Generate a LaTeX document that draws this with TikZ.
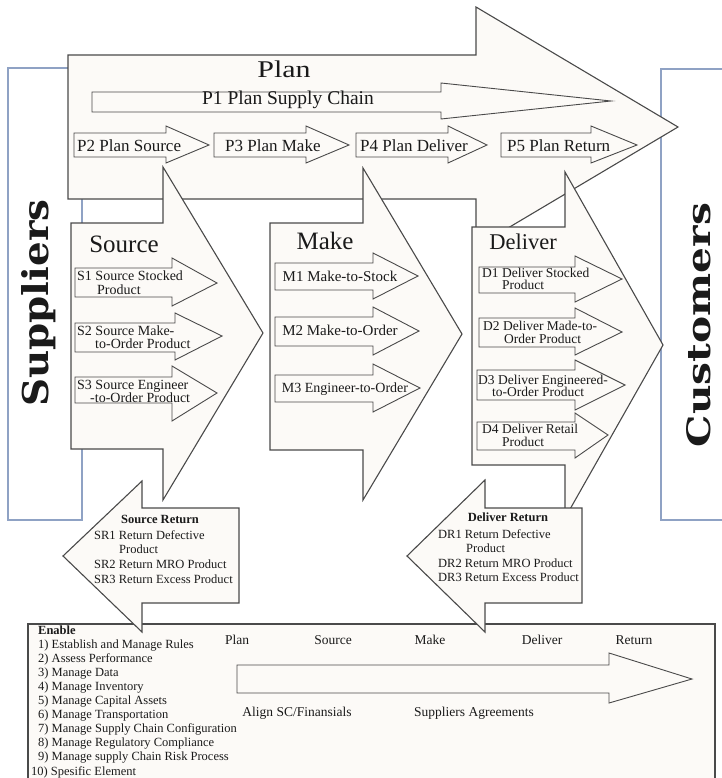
\documentclass[tikz,border=0pt]{standalone}
\usepackage{fontspec}
\setmainfont{Liberation Serif}
\newfontfamily\slabfont{DejaVu Serif}
\usepackage{graphicx}

\definecolor{edge}{HTML}{4A4A4A}
\definecolor{paper}{HTML}{FCFAF7}
\definecolor{sidebox}{HTML}{8FA2C4}
\definecolor{ink}{HTML}{1A1A1A}

% block arrow pointing along x:
% #1 style, #2 body end x, #3 body top y, #4 body bottom y,
% #5 head base x, #6 head top y, #7 head bottom y, #8 tip x, #9 tip y
\newcommand{\blockarrow}[9]{%
  \filldraw[#1] (#2,#3) -- (#5,#3) -- (#5,#6) -- (#8,#9) -- (#5,#7)
    -- (#5,#4) -- (#2,#4) -- cycle;}

\newcommand{\fs}[1]{\fontsize{#1}{#1}\selectfont}

\begin{document}
\begin{tikzpicture}[x=1pt,y=-1pt,
  big/.style={draw=edge, fill=paper, line width=1.1pt, line join=miter},
  small/.style={draw=edge, fill=paper, line width=0.9pt, line join=miter},
  party/.style={draw=sidebox, line width=1.4pt},
  txt/.style={inner sep=0pt, text=ink},
  ttl/.style={txt, anchor=base, font=\fs{24}},
  ptx/.style={txt, anchor=base west, font=\fs{17}},
  stx/.style={txt, anchor=base west, font=\fs{14}},
  mtx/.style={txt, anchor=base, font=\fs{15}},
  dtx/.style={txt, anchor=base west, font=\fs{13.5}},
  rtx/.style={txt, anchor=base west, font=\fs{12.5}},
  rhd/.style={txt, anchor=base, font=\fs{12.5}\bfseries},
  etx/.style={txt, anchor=base west, font=\fs{12.5}},
  ehd/.style={txt, anchor=base, font=\fs{13.5}}]

\useasboundingbox (0,0) rectangle (721,778);
\fill[white] (0,0) rectangle (721,778);

% suppliers and customers frames
\draw[party] (8,68) rectangle (82,520);
\draw[party] (730,69) -- (661,69) -- (661,520) -- (730,520);

% Plan
\blockarrow{big}{68}{55}{199}{476}{7}{247}{678}{127}
\blockarrow{small}{92}{92}{112}{441}{83}{119}{611}{101}
\blockarrow{small}{74}{133}{157}{166}{126}{163}{209}{145}
\blockarrow{small}{214}{133}{157}{306}{126}{163}{349}{145}
\blockarrow{small}{356}{133}{157}{448}{126}{163}{487}{145}
\blockarrow{small}{501}{133}{157}{591}{126}{163}{637}{145}

% Source
\blockarrow{big}{71}{223}{449}{163}{167}{500}{263}{333}
\blockarrow{small}{75}{268}{297}{172}{258}{306}{217}{283}
\blockarrow{small}{75}{323}{352}{175}{313}{360}{222}{336}
\blockarrow{small}{75}{377}{403}{172}{366}{421}{217}{393}

% Make
\blockarrow{big}{270}{223}{450}{363}{168}{500}{462}{334}
\blockarrow{small}{275}{263}{290}{373}{253}{299}{418}{276}
\blockarrow{small}{275}{317}{346}{373}{307}{355}{419}{331}
\blockarrow{small}{275}{375}{402}{373}{364}{412}{420}{388}

% Deliver
\blockarrow{big}{472}{227}{465}{565}{172}{518}{663}{345}
\blockarrow{small}{479}{267}{293}{575}{256}{302}{622}{279}
\blockarrow{small}{479}{318}{347}{575}{308}{355}{622}{332}
\blockarrow{small}{477}{370}{400}{575}{360}{410}{625}{385}
\blockarrow{small}{477}{422}{450}{575}{413}{458}{608}{435}

% Enable frame and its arrow
\filldraw[big] (28,624) rectangle (715,790);
\blockarrow{small}{237}{665}{693}{609}{653}{703}{692}{679}

% Return arrows
\blockarrow{big}{239}{508}{603}{142}{481}{632}{63}{556}
\blockarrow{big}{582}{508}{603}{485}{480}{632}{407}{556}

% side labels
\node[txt, rotate=90] (suppliers) at (39,303)
  {\resizebox{207pt}{27pt}{\slabfont\bfseries Suppliers}};
\node[txt, rotate=90] (customers) at (699,325)
  {\resizebox{244pt}{24pt}{\slabfont\bfseries Customers}};

% Plan texts
\node[ttl] (plan) at (284,78) {\scalebox{1.25}[1]{Plan}};
\node[txt, anchor=base, font=\fs{19.5}] (p1) at (288,105) {P1 Plan Supply Chain};
\node[ptx] (p2) at (77,152) {P2 Plan Source};
\node[ptx] (p3) at (225,152) {P3 Plan Make};
\node[ptx] (p4) at (360,152) {P4 Plan Deliver};
\node[ptx] (p5) at (507,152) {P5 Plan Return};

% Source texts
\node[ttl, font=\fs{25}] (source) at (124,252) {Source};
\node[stx] (s1a) at (77,280.5) {S1 Source Stocked};
\node[stx] (s1b) at (97,294) {Product};
\node[stx] (s2a) at (77,335) {S2 Source Make-};
\node[stx] (s2b) at (95,348.5) {to-Order Product};
\node[stx] (s3a) at (77,389) {S3 Source Engineer};
\node[stx] (s3b) at (90,402) {-to-Order Product};

% Make texts
\node[ttl, font=\fs{25}] (make) at (325,249) {Make};
\node[mtx] (m1) at (340,281) {M1 Make-to-Stock};
\node[mtx] (m2) at (340,335) {M2 Make-to-Order};
\node[mtx, font=\fs{14}] (m3) at (345,392) {M3 Engineer-to-Order};

% Deliver texts
\node[ttl, font=\fs{22.5}] (deliver) at (523,249) {Deliver};
\node[dtx] (d1a) at (482,277) {D1 Deliver Stocked};
\node[dtx] (d1b) at (502,289) {Product};
\node[dtx] (d2a) at (483,330) {D2 Deliver Made-to-};
\node[dtx] (d2b) at (504,343) {Order Product};
\node[dtx] (d3a) at (478,384) {D3 Deliver Engineered-};
\node[dtx] (d3b) at (492,396) {to-Order Product};
\node[dtx] (d4a) at (482,433) {D4 Deliver Retail};
\node[dtx] (d4b) at (502,446) {Product};

% Return texts
\node[rhd] (srt) at (160,523) {Source Return};
\node[rtx] (sr1a) at (94,539) {SR1 Return Defective};
\node[rtx] (sr1b) at (119,553) {Product};
\node[rtx] (sr2) at (94,568) {SR2 Return MRO Product};
\node[rtx] (sr3) at (94,583) {SR3 Return Excess Product};

\node[rhd] (drt) at (508,521) {Deliver Return};
\node[rtx] (dr1a) at (438,538) {DR1 Return Defective};
\node[rtx] (dr1b) at (466,552) {Product};
\node[rtx] (dr2) at (438,567) {DR2 Return MRO Product};
\node[rtx] (dr3) at (438,581) {DR3 Return Excess Product};

% Enable texts
\node[etx, font=\fs{12.5}\bfseries] (enable) at (38,634) {Enable};
\foreach \item [count=\i] in {
  1) Establish and Manage Rules,
  2) Assess Performance,
  3) Manage Data,
  4) Manage Inventory,
  5) Manage Capital Assets,
  6) Manage Transportation,
  7) Manage Supply Chain Configuration,
  8) Manage Regulatory Compliance,
  9) Manage supply Chain Risk Process}
  \node[etx] (en\i) at (38,{634+14.1*\i}) {\item};
\node[etx] (en10) at (31,775) {10) Spesific Element};

\node[ehd] (eplan) at (237,644) {Plan};
\node[ehd] (esource) at (333,644) {Source};
\node[ehd] (emake) at (430,644) {Make};
\node[ehd] (edeliver) at (542,644) {Deliver};
\node[ehd] (ereturn) at (634,644) {Return};
\node[ehd] (align) at (297,716) {Align SC/Finansials};
\node[ehd] (agree) at (474,716) {Suppliers Agreements};

\end{tikzpicture}
\end{document}
